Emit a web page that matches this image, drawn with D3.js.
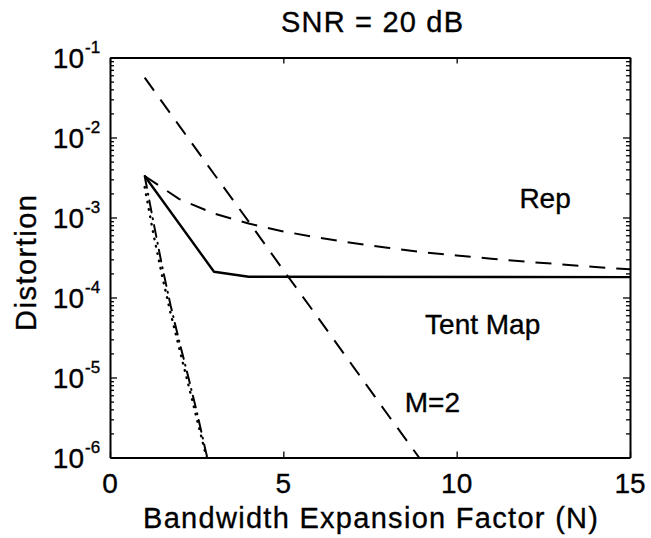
<!DOCTYPE html>
<html>
<head>
<meta charset="utf-8">
<script src="https://cdn.jsdelivr.net/npm/d3@7"></script>
<style>
  html, body { margin: 0; padding: 0; background: #fff; }
  svg { display: block; }
  text { font-family: "Liberation Sans", Arial, Helvetica, sans-serif; fill: #000; stroke: #000; stroke-width: 0.35px; }
</style>
</head>
<body>
<svg id="chart" width="651" height="538"></svg>
<script>
// ---------- data ----------
const titleText = "SNR = 20 dB";
const xLabel = "Bandwidth Expansion Factor (N)";
const yLabel = "Distortion";
const xTicks = [0, 5, 10, 15];
const yTicks = [1e-1, 1e-2, 1e-3, 1e-4, 1e-5, 1e-6];
const yTickExps = ["-1", "-2", "-3", "-4", "-5", "-6"];

// Rep (dashed)
const repN = [1, 2, 3, 4, 5, 6, 7, 8, 9, 10, 11, 12, 13, 14, 15];
const repD = [3.3e-3, 1.7e-3, 1.12e-3, 8.4e-4, 6.7e-4, 5.6e-4, 4.8e-4, 4.2e-4, 3.7e-4, 3.35e-4, 3.05e-4, 2.8e-4, 2.6e-4, 2.4e-4, 2.25e-4];

// Tent Map (solid)
const tentN = [1, 3, 4, 15];
const tentD = [3.3e-3, 2.1e-4, 1.82e-4, 1.8e-4];

// M=2 (dashed)
const m2N = [1, 2, 3, 4, 5, 6, 7, 8, 9];
const m2D = [5.6e-2, 1.4e-2, 3.5e-3, 8.9e-4, 2.2e-4, 5.6e-5, 1.4e-5, 3.5e-6, 8.9e-7];

// steep dash-dot curve
const ddN = [1, 1.25, 1.5, 1.75, 2, 2.25, 2.5, 2.75, 3];
const ddD = [3.3e-3, 8.9e-4, 2.5e-4, 7.9e-5, 2.8e-5, 1.05e-5, 3.8e-6, 1.26e-6, 4.5e-7];

// steep dotted curve
const dotN = [1, 1.25, 1.5, 1.75, 2, 2.25, 2.5, 2.75, 3];
const dotD = [2.4e-3, 6.3e-4, 1.9e-4, 6.3e-5, 2.3e-5, 8.5e-6, 3.1e-6, 1.15e-6, 4.2e-7];

// annotations
const labels = [
  { text: "Rep", n: 12.55, d: 1.3e-3 },
  { text: "Tent Map", n: 10.75, d: 3.5e-5 },
  { text: "M=2", n: 9.3, d: 3.7e-6 }
];

// ---------- layout ----------
const L = 110, R = 630, T = 57.5, B = 457.5;
const svg = d3.select("#chart");

const x = d3.scaleLinear().domain([0, 15]).range([L, R]);
const y = d3.scaleLog().domain([1e-6, 1e-1]).range([B, T]);

// minor ticks
const minor = [];
for (let e = -6; e < -1; e++) for (let k = 2; k <= 9; k++) minor.push(k * Math.pow(10, e));

function styleAxis(g) {
  g.selectAll("path.domain").attr("stroke", "#000").attr("stroke-width", 2);
  g.selectAll(".tick line").attr("stroke", "#000").attr("stroke-width", 1.3);
  g.selectAll(".tick text").remove();
}

// frame axes
svg.append("g").attr("transform", `translate(0,${B})`)
  .call(d3.axisBottom(x).tickValues(xTicks).tickSizeInner(-6).tickSizeOuter(0)).call(styleAxis);
svg.append("g").attr("transform", `translate(0,${T})`)
  .call(d3.axisTop(x).tickValues(xTicks).tickSizeInner(-6).tickSizeOuter(0)).call(styleAxis);
svg.append("g").attr("transform", `translate(${L},0)`)
  .call(d3.axisLeft(y).tickValues(yTicks).tickSizeInner(-7).tickSizeOuter(0)).call(styleAxis);
svg.append("g").attr("transform", `translate(${R},0)`)
  .call(d3.axisRight(y).tickValues(yTicks).tickSizeInner(-7).tickSizeOuter(0)).call(styleAxis);
svg.append("g").attr("transform", `translate(${L},0)`)
  .call(d3.axisLeft(y).tickValues(minor).tickSizeInner(-4).tickSizeOuter(0)).call(styleAxis)
  .select("path.domain").remove();
svg.append("g").attr("transform", `translate(${R},0)`)
  .call(d3.axisRight(y).tickValues(minor).tickSizeInner(-4).tickSizeOuter(0)).call(styleAxis)
  .select("path.domain").remove();

// x tick labels
svg.append("g").selectAll("text").data(xTicks).join("text")
  .attr("x", d => x(d)).attr("y", 493)
  .attr("text-anchor", "middle").attr("font-size", 28)
  .text(d => d);

// y tick labels with superscripts
const yl = svg.append("g");
yTicks.forEach((v, i) => {
  yl.append("text").attr("x", 84).attr("y", y(v) + 10)
    .attr("text-anchor", "end").attr("font-size", 28).text("10");
  yl.append("text").attr("x", 85).attr("y", y(v) - 5)
    .attr("text-anchor", "start").attr("font-size", 17).text(yTickExps[i]);
});

// clip
svg.append("clipPath").attr("id", "clip").append("rect")
  .attr("x", L).attr("y", T).attr("width", R - L).attr("height", B - T);

const line = d3.line().x(d => x(d[0])).y(d => y(d[1]));
const plot = svg.append("g").attr("clip-path", "url(#clip)");

function series(N, D, dash, w, cap) {
  plot.append("path")
    .datum(N.map((n, i) => [n, D[i]]))
    .attr("d", line)
    .attr("fill", "none").attr("stroke", "#000")
    .attr("stroke-width", w)
    .attr("stroke-dasharray", dash)
    .attr("stroke-linecap", cap || "butt")
    .attr("stroke-linejoin", "round");
}
series(m2N, m2D, "16,11", 2);
series(repN, repD, "16,11", 2);
series(tentN, tentD, null, 2.4);
series(ddN, ddD, "12,6,1,6", 2, "round");
series(dotN, dotD, "0.5,7", 2.4, "round");

// annotations
svg.append("g").selectAll("text").data(labels).join("text")
  .attr("x", d => x(d.n)).attr("y", d => y(d.d))
  .attr("text-anchor", "middle").attr("font-size", 28)
  .text(d => d.text);

// title & axis labels
svg.append("text").attr("x", 372).attr("y", 32)
  .attr("text-anchor", "middle").attr("font-size", 29)
  .attr("textLength", 182).attr("lengthAdjust", "spacing")
  .text(titleText);
svg.append("text").attr("x", 370.5).attr("y", 528)
  .attr("text-anchor", "middle").attr("font-size", 29)
  .attr("textLength", 455).attr("lengthAdjust", "spacing")
  .text(xLabel);
svg.append("text")
  .attr("transform", `translate(36,263) rotate(-90)`)
  .attr("text-anchor", "middle").attr("font-size", 29)
  .attr("textLength", 136).attr("lengthAdjust", "spacing")
  .text(yLabel);
</script>
</body>
</html>
